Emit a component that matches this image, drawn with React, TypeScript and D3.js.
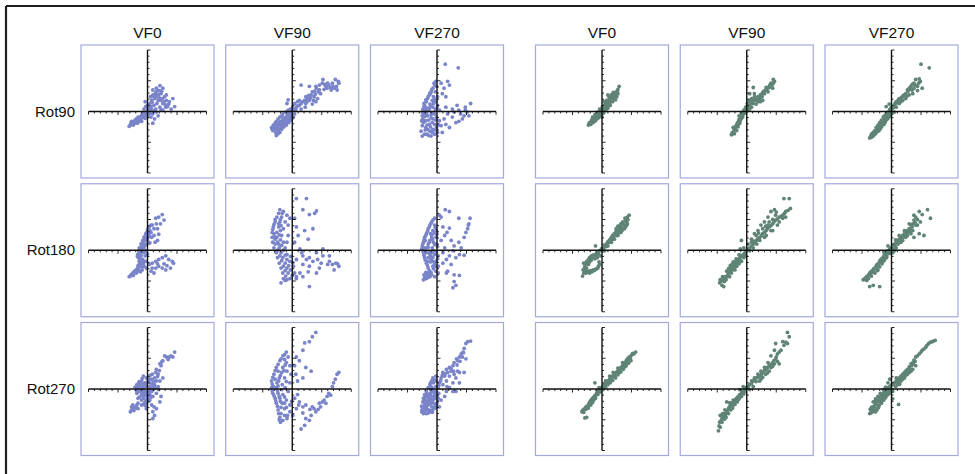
import React from 'react';
import * as d3 from 'd3';

type Pt = [number, number];

const vfLabels = ['VF0', 'VF90', 'VF270'];
const rotLabels = ['Rot90', 'Rot180', 'Rot270'];

// axis domain is -10..10 on both axes

// ---- left block (blue) ----
const blueRot90VF0: Pt[] = [
  [-2.9,-2.2],[-2.4,-1.8],[-1.8,-1.5],[-1.3,-1.1],[-0.7,-0.7],[-0.2,-0.3],[-2.7,-1.6],[-2.1,-1.4],[-1.6,-0.9],[-1.0,-0.6],
  [-0.4,-0.2],[0.1,0.2],[-2.4,-2.2],[-1.7,-1.9],[-1,-1.6],[-0.4,-1.1],[0.1,-0.7],[0.4,-0.3],[-0.6,0.4],[-0.3,0.8],
  [0.1,0.6],[0.5,0.3],[-0.4,1.6],[0.9,3.5],[1.5,3.8],[2.1,4.2],[2.6,3.8],[2.3,2.9],[2.9,2.4],[3.2,1.8],
  [3.7,1.6],[4.3,2.1],[4.6,0.8],[4.0,0.4],[3.4,0.8],[2.6,1.3],[1.8,1.8],[1.2,2.1],[0.9,2.7],[1.5,2.4],
  [2.1,0.7],[0.9,-0.4],[1.2,-1.2],[0.9,-1.9],[1.8,-0.7],[2.6,0.2],[0.7,1.8],[0.4,1.3],[1.1,1.0],[1.6,1.3],
  [2.2,1.8],[1.9,2.8],[1.4,3.1],[2.5,2.1],[3.2,2.7],[0.7,0.4],[1.4,0.4],[3.1,0.7],[1.5,-0.1],[-1.9,-1.2],
  [-1.2,-0.9],[-0.8,-0.4],[-2.2,-1.9],[0.3,0.9],
  [-2.6,-2.0],[-2.2,-1.6],[-2.0,-1.8],[-1.5,-1.3],[-1.4,-1.6],[-1.1,-1.2],[-0.9,-1.0],[-0.6,-0.9],[-0.5,-0.5],[-0.3,-0.6],
  [0.0,-0.4],[0.2,-0.1],[-0.1,0.0],[0.3,0.5],[0.6,0.8],[0.8,1.5],[1.0,2.5],[1.3,2.8],[1.7,3.4],[2.0,3.4],
  [2.4,3.3],[2.0,2.2],[2.8,1.6],[3.6,1.2],[3.0,1.1],[1.2,0.1],[0.6,-0.9],[2.3,0.3],[-2.8,-1.9],[-3.1,-2.4],
  [-1.9,-1.7],[-0.8,-0.2],[0.0,1.0],[0.5,2.4],
];
const blueRot90VF90: Pt[] = [
  [1.2,1.8],[2.3,2.4],[3.4,3.2],[4.0,4.1],[5.1,4.6],[5.7,4.1],[6.2,4.3],[6.8,4.6],[7.3,5.2],[7.9,4.6],
  [7.6,3.5],[7.1,3.8],[6.5,3.9],[4.6,3.5],[3.7,2.4],[2.9,1.8],[2.3,1.3],[1.8,1.6],[4.0,1.6],[3.4,1.2],
  [1.5,4.3],[2.9,4.1],[5.2,5.2],[4.1,3.8],[4.8,2.9],[3.2,2.7],[2.6,2.1],[2.1,1.8],[1.2,1.0],[0.7,0.7],
  [0.9,1.6],[-0.7,1.9],[-0.9,1.3],[0.4,1.3],[1.5,0.4],[2.2,0.7],[5.9,3.8],[6.6,3.5],[4.3,2.1],[3.6,1.8],
  [-3.5,-2.6],[-3.2,-2.2],[-2.9,-1.9],[-2.7,-1.6],[-2.4,-1.2],[-2.1,-0.9],[-1.8,-0.7],[-1.6,-0.4],[-1.1,-0.1],[-0.7,0.2],
  [-0.3,0.4],[0.1,0.7],[-3.3,-3.1],[-2.9,-2.9],[-2.6,-2.6],[-2.1,-2.3],[-1.7,-2.1],[-1.3,-1.8],[-0.9,-1.4],[-0.4,-0.9],
  [0,-0.7],[0.4,-0.4],[-2.8,-3.4],[-2.4,-3.2],[-1.8,-2.9],[-1.4,-2.5],[-1,-2.2],[-0.6,-1.8],[-0.2,-1.4],[0.2,-0.9],
  [-2.7,-3.9],[-2.1,-3.4],[-3.1,-2.5],[-2.2,-1.8],[-1.6,-1.4],[-0.9,-0.7],[-0.3,-0.3],[-1.8,-1.6],[-1.3,-1.1],[-2.6,-2.1],
  [-0.7,-0.4],[0.4,0.2],[-3.4,-2.9],[-2.5,-2.8],[-1.9,-2.4],[-1.2,-1.4],[-0.5,-1.1],
  [-3.0,-2.4],[-2.6,-2.2],[-2.3,-1.9],[-2.0,-1.6],[-1.5,-1.1],[-1.0,-0.9],[-0.6,-0.6],[-0.2,-0.2],[-2.3,-2.9],[-1.9,-2.7],
  [-1.5,-2.2],[-1.1,-1.9],[-0.8,-1.6],[-0.4,-1.3],[0.0,-1.1],[-3.1,-2.9],[-2.4,-3.6],[-1.6,-1.8],[-0.1,0.2],[0.6,0.3],
  [0.9,0.9],[1.5,1.3],[2.5,1.6],[2.8,2.6],[3.1,2.2],[3.9,2.8],[4.4,3.2],[5.4,3.6],[5.5,4.4],[6.0,4.6],
  [6.9,4.1],[7.5,4.1],[7.8,4.9],[4.6,4.3],[3.8,3.3],
];
const blueRot90VF270: Pt[] = [
  [-0.2,4.9],[-0.4,4.3],[-0.7,3.8],[-1.0,3.2],[-1.3,2.7],[-1.6,2.1],[-1.8,1.6],[-2.1,1.0],[-2.4,0.4],[-2.5,-0.1],
  [-2.5,-0.7],[-2.4,-1.2],[-2.3,-1.8],[-2.5,-2.3],[-2.7,-3.2],[-2.5,-4.0],[-0.1,4.1],[-0.3,3.2],[-0.6,2.4],[-0.8,1.8],
  [-1.2,1.2],[-1.4,0.6],[-1.6,0.1],[-1.6,-0.7],[-1.4,-1.4],[-1.3,-2.1],[-1.6,-2.9],[-1.7,-3.7],[-1.0,-4.0],[-0.4,-3.7],
  [-0.7,-2.9],[-0.4,-2.1],[-0.7,-1.2],[-0.4,-0.4],[-0.1,-0.9],[-0.1,-2.6],[0.1,-3.4],[-0.7,0.7],[-0.2,1.6],[0.1,2.4],
  [0.1,1.0],[-1.8,-0.4],[-2.1,-1.6],[-1.9,-2.6],[0.4,0.2],[0.4,-1.5],[0.7,-2.3],
  [1.5,0.7],[2.6,0.4],[3.7,0.2],[4.8,0.2],[5.7,1.3],[5.4,-0.7],[4.3,-1.2],[3.2,-1.8],[2.1,-2.6],[0.9,-3.4],
  [2.6,-0.9],[1.8,-0.4],[4.8,0.7],[4.0,-0.4],[3.4,1.0],[1.2,-1.2],[4.6,-0.7],[5.1,-0.1],[2.9,-0.1],[1.5,-2.1],
  [3.7,-1.6],[1.4,7.7],[3.6,7.1],[1.8,4.9],[2.1,4.3],[1.2,3.8],[0.7,4.6],[1.5,2.4],[0.9,2.9],
  [-1.1,2.9],[-1.9,0.6],[-2.0,-0.3],[-1.0,-1.0],[-1.2,-3.2],
  [-0.5,4.6],[-0.9,3.5],[-1.2,3.0],[-1.5,2.4],[-1.9,1.9],[-2.2,1.3],[-2.2,0.8],[-2.0,0.2],[-1.3,0.4],[-1.0,0.9],
  [-0.9,-0.2],[-2.1,-0.8],[-1.9,-1.5],[-1.7,-2.2],[-2.0,-3.0],[-2.1,-3.7],[-1.4,-3.9],[-0.8,-3.4],[-1.1,-2.5],[-0.8,-1.8],
  [-1.0,-0.5],[-0.3,0.3],[0.0,0.6],[-0.6,1.3],[-0.4,2.0],[-2.3,-0.3],[-2.6,-1.5],[-0.2,-1.4],[-0.3,-3.0],[0.3,-2.2],
];
const blueRot180VF0: Pt[] = [
  [-3.1,-4.3],[-2.8,-4.0],[-2.5,-3.7],[-2.2,-3.4],[-1.9,-3.2],[-1.7,-2.9],[-1.4,-2.3],[-1.4,-1.8],[-1.5,-1.2],[-1.7,-0.7],
  [-1.5,-0.1],[-1.4,0.4],[-1.1,1.0],[-0.8,1.6],[-0.6,2.1],[-0.3,2.7],[0,3.2],[0.3,3.8],[0.6,4.1],
  [-1.1,-2.1],[-1.1,-0.9],[-0.8,-0.4],[-0.6,0.4],[-0.3,1.0],[0,1.6],[0.3,2.4],[-0.8,-1.5],[-0.6,-2.6],[-0.9,-3.2],
  [-1.9,-3.7],[-2.4,-4.1],[-0.4,-0.9],[-0.3,-0.1],[-1.3,-0.4],[-0.9,0.3],[-0.7,1.0],[-0.4,1.8],[0.2,2.9],[-1.3,-1.5],
  [-0.7,-2.2],[-0.2,-1.8],[-0.2,-2.9],[-1.4,-3.4],
  [2.5,5.8],[1.9,5.4],[2.8,4.9],[1.4,5.2],[0.8,4.1],[1.7,3.5],[1.1,2.4],[1.7,1.6],[0.6,2.9],[2.2,4.3],
  [1.5,4.3],[1.1,3.5],[0.7,2.1],[1.3,1.3],[1.9,2.6],
  [0.8,-2.1],[1.4,-1.8],[1.9,-1.5],[2.5,-1.2],[3.1,-0.9],[3.6,-1.5],[4.2,-1.8],[4.4,-2.1],[3.9,-2.9],[3.1,-3.2],
  [2.5,-2.9],[1.9,-2.6],[1.4,-2.9],[1.1,-3.7],[0.6,-3.4],[0.3,-2.3],[1.7,-2.2],[2.8,-2.2],[3.3,-2.5],[0.8,-2.9],
  [-2.9,-4.2],[-2.6,-3.9],[-2.3,-3.6],[-2.0,-3.4],[-1.6,-3.1],[-1.3,-2.7],[-1.2,-2.0],[-1.2,-1.4],[-1.3,-0.9],[-1.4,-0.4],
  [-1.2,0.1],[-1.0,0.6],[-0.9,1.2],[-0.6,1.5],[-0.4,2.3],[-0.1,2.9],[0.1,3.5],[-0.9,-2.7],[-0.6,-1.8],[-0.5,-0.3],
  [-0.4,0.8],[-0.1,2.0],[0.4,3.2],[0.4,1.2],[-1.6,-2.5],[-1.7,-1.0],[-1.2,-3.5],[0.0,-0.6],
];
const blueRot180VF90: Pt[] = [
  [-2.1,6.6],[-2.3,6.0],[-2.6,5.4],[-2.9,4.6],[-3.2,3.8],[-3.4,2.9],[-3.4,2.1],[-3.3,1.3],[-3.1,0.4],[-2.7,-0.4],
  [-2.5,-1.2],[-2.2,-2.1],[-1.9,-2.9],[-1.6,-3.7],[-1.5,-4.6],[-1.9,-5.3],
  [-1.5,6.3],[-1.8,5.4],[-2.1,4.6],[-2.3,3.8],[-2.6,2.9],[-2.6,2.1],[-2.5,1.3],[-2.2,0.4],[-1.9,-0.4],[-1.6,-1.2],
  [-1.2,-2.1],[-0.9,-2.9],[-0.7,-3.7],[-0.4,-4.6],[-0.9,-4.8],
  [-0.9,5.7],[-1.2,4.6],[-1.5,3.5],[-1.8,2.4],[-1.5,1.3],[-1.2,0.4],[-0.9,-0.7],[-0.4,-1.8],[0.2,-2.6],[0.4,-3.7],
  [0.7,-4.6],[-3.1,2.7],[-2.9,1.8],[-2.3,1.0],[-0.7,2.4],[-0.7,4.1],[-0.4,5.2],[-0.9,1.3],
  [0.7,8.4],[2.4,8.4],[1.8,6.6],[2.9,5.8],[4.1,6.4],[3.8,6.0],[2.1,3.2],[2.7,1.8],[3.5,3.5],[0.4,1.3],
  [1.0,2.4],[1.3,0.2],[0.7,-1.5],[0.4,5.2],[0.7,3.8],
  [1.8,-0.9],[2.9,-1.2],[4.1,-0.4],[5.2,-0.9],[6.3,-0.9],[7.4,-2.1],[7.9,-2.6],[7.1,-3.2],[6.0,-2.3],[4.6,-2.9],
  [4.1,-3.7],[2.9,-2.6],[1.8,-2.3],[1.3,-3.7],[2.9,-5.9],[0.7,-4.3],[1.8,-4.3],[5.2,0.2],[6.3,-1.8],[3.5,-1.8],
  [2.4,-1.5],[4.9,-2.1],[6.8,-2.3],[2.7,-3.5],[4.3,-1.5],[1.6,-0.4],[7.7,-2.2],
  [-2.9,5.0],[-3.1,4.2],[-3.3,3.4],[-3.0,2.2],[-2.9,1.0],[-2.5,0.0],[-2.1,-0.9],[-1.8,-1.7],[-1.5,-2.6],[-1.2,-3.3],
  [-1.1,-4.2],[-1.2,-4.9],[-2.0,5.0],[-2.3,4.3],[-2.0,3.2],[-2.2,2.5],[-2.0,1.7],[-1.8,0.8],[-1.5,0.0],[-1.2,-0.8],
  [-0.9,-1.5],[-0.6,-2.5],[-0.3,-3.2],[0.0,-4.1],[-1.7,6.0],[-1.9,4.0],[-0.3,-1.0],[0.1,-2.0],
];
const blueRot180VF270: Pt[] = [
  [-0.9,4.6],[-0.7,4.9],[-0.4,5.2],[-1.2,4.1],[-1.5,3.5],[-1.8,2.7],[-2.1,2.1],[-2.3,1.3],[-2.5,0.7],[-2.6,0.2],
  [-2.3,-0.4],[-2.1,-1.2],[-1.8,-2.1],[-1.5,-2.9],[-1.2,-3.7],[-2.1,-4.3],[-2.3,-4.8],[-1.8,-4.6],[-1.2,-4.3],[-0.9,-4.0],
  [-1.5,-3.7],[-0.4,4.1],[-0.7,3.2],[-0.9,2.4],[-1.2,1.6],[-1.5,1.0],[-1.8,0.4],[-1.8,-0.4],[-1.5,-1.2],[-1.1,-1.9],
  [-0.7,-2.6],[-0.2,-3.4],[-0.1,3.2],[-0.2,2.1],[-0.6,1.3],[-0.8,0.4],[-0.9,-0.4],[-0.7,-1.2],[-0.2,-1.8],[-0.4,-0.7],
  [-0.1,1.0],[0.2,-0.9],[0.2,-2.6],[-0.4,-4.3],[-2.2,0.4],[-2.0,1.6],[-1.2,-0.7],[-1.1,2.7],[-0.8,1.8],[0.2,-3.7],
  [0.4,5.7],[1.4,6.6],[2.1,6.3],[0.7,5.4],[1.0,3.8],[2.1,3.6],
  [3.7,5.2],[5.6,5.2],[5.4,4.3],[5.2,3.5],[4.9,2.9],[4.6,2.1],[3.7,1.3],[4.1,0.4],[2.9,0.7],[2.7,-0.1],
  [3.8,-0.7],[4.6,-0.8],[3.2,-1.2],[2.1,-0.9],[1.6,-1.5],[1.0,-2.1],[2.4,-2.3],[1.8,-3.4],[1.6,-3.7],[2.9,-4.0],
  [3.8,-4.1],[2.9,-5.1],[3.2,-5.7],[2.7,-6.1],[1.3,2.4],[0.7,1.6],[2.4,1.6],[1.7,2.9],[5.3,4.1],[1.0,-0.4],[1.3,0.4],
  [-1.0,4.4],[-1.3,3.8],[-1.6,3.1],[-1.9,2.4],[-2.2,1.7],[-2.4,1.0],[-2.4,-0.1],[-2.2,-0.8],[-2.0,-1.6],[-1.6,-2.5],
  [-1.3,-3.3],[-1.7,-4.1],[-2.0,-4.6],[-1.5,-4.4],[-1.0,-3.6],[-0.6,-3.0],[-0.4,-2.2],[-1.0,-1.5],[-1.3,-0.4],[-1.5,0.5],
  [-1.3,1.3],[-0.9,2.0],[-0.5,2.8],[-0.3,3.7],[-0.4,0.9],[-0.6,-0.1],[-1.0,-1.0],[-1.6,-1.8],[-0.7,-1.8],[-0.2,-2.6],
  [0.1,-1.4],[-0.1,-0.3],[0.1,0.6],[0.0,2.6],[-1.9,-3.6],[-2.2,-4.0],
];
const blueRot270VF0: Pt[] = [
  [-1.8,0.7],[-1.6,0.2],[-1.3,-0.4],[-1.0,-0.9],[-0.7,-1.5],[-0.4,-2.1],[-0.2,-2.3],[0.1,-1.5],[0.4,-0.9],[0.7,-0.4],
  [0.9,0.2],[1.2,0.7],[1.5,1.3],[0.7,1.6],[0.1,1.3],[-0.4,1.0],[-1.0,1.3],[-1.3,0.4],[-0.7,-0.1],[-0.2,-0.7],
  [-0.7,0.4],[-0.2,0.4],[0.4,0.4],[-0.4,-0.9],[-1.0,-1.8],[-1.6,-1.5],[-1.8,-0.7],[-2.1,0.3],[0.1,-0.1],[0.4,-1.8],
  [-0.2,-3.2],[0.9,-1.2],[1.5,-0.7],[1.9,-0.1],[1.8,0.4],[1.2,1.8],[0.8,2.4],[-0.7,2.1],[-0.2,1.8],[-1.4,1.2],
  [1.5,3.2],[2.1,4.1],[2.6,4.6],[3.2,5.2],[3.7,5.2],[4.3,5.2],[4.6,6.0],[2.9,5.4],[2.3,3.8],[1.8,2.4],
  [2.6,1.8],[2.1,1.3],[1.4,2.7],
  [-2.9,-3.7],[-2.7,-3.4],[-2.4,-3.2],[-2.1,-2.9],[-1.8,-2.6],[-1.6,-2.3],[-1.0,-2.6],[-2.7,-2.9],[-1.6,-3.2],[0.9,-3.7],
  [1.2,-4.3],[0.9,-4.8],[1.5,-3.2],[2.1,-2.1],[2.3,-1.2],[0.7,-2.6],
  [-1.5,0.9],[-1.1,0.8],[-0.9,0.0],[-0.4,-0.4],[0.2,-0.4],[0.6,0.1],[0.8,0.8],[1.0,1.2],[0.4,1.0],[-0.2,0.9],
  [-0.6,0.9],[-1.1,-0.3],[-0.8,-0.6],[-0.6,-1.2],[-0.1,-1.1],[0.2,-2.0],[-0.6,-2.4],[-1.3,-1.3],[-1.5,-0.4],[-1.9,-0.2],
  [0.3,1.6],[1.0,-0.1],[1.3,0.2],[-0.2,-1.8],[0.6,-1.3],[-0.9,1.7],[0.4,2.2],[1.7,2.0],[2.0,3.0],[2.4,4.4],
  [3.5,4.8],[4.0,5.4],[-2.3,-3.5],[-1.9,-3.1],[-2.5,-2.6],[-0.4,-2.7],[1.1,-2.9],
];
const blueRot270VF90: Pt[] = [
  [-1.0,6.0],[-1.6,5.4],[-2.1,4.6],[-2.7,3.5],[-3.1,2.4],[-3.5,1.3],[-3.5,0.2],[-3.3,-0.7],[-2.9,-1.5],[-2.7,-2.3],
  [-2.4,-3.4],[-2.1,-4.6],[-2.0,-5.4],
  [-0.7,5.2],[-1.0,4.3],[-1.6,3.5],[-1.8,2.7],[-2.2,1.8],[-2.6,1.0],[-2.7,0.2],[-2.4,-0.7],[-2.1,-1.5],[-1.7,-2.3],
  [-1.3,-3.2],[-1.3,-4.3],[-1.6,-5.1],[-0.9,-4.8],[-0.4,-3.7],[-0.4,-2.6],[-1.0,-1.8],[-1.6,-0.9],[-1.8,-0.1],[-1.7,0.7],
  [-1.3,1.8],[-0.9,2.9],[-0.4,3.8],[-0.2,2.4],[-0.4,1.0],[-0.7,-0.4],[-2.9,1.6],[-2.4,2.9],[-3.2,0.4],
  [4.0,9.2],[3.4,8.5],[2.9,7.7],[2.1,7.5],[1.8,6.3],[0.7,5.2],[1.2,4.6],[2.3,3.5],[3.2,2.9],[1.8,1.8],
  [0.9,1.3],[0.4,3.8],[0.6,2.4],
  [1.2,-2.1],[2.3,-2.6],[3.4,-2.9],[4.6,-2.3],[5.4,-1.8],[6.2,-0.7],[6.8,0.4],[7.3,1.6],[7.6,2.4],[7.9,2.7],
  [4.8,-2.9],[4.0,-3.7],[3.2,-4.3],[2.3,-4.8],[1.5,-6.5],[2.1,-5.9],[2.9,-5.1],[5.9,-1.2],[7.0,1.0],[5.1,-2.1],
  [3.7,-3.2],[1.8,-2.9],[0.9,-0.9],[0.7,-3.2],[0.1,-4.3],[0.4,-1.5],
  [-1.3,5.6],[-1.9,4.9],[-2.4,4.0],[-2.9,3.0],[-3.3,1.9],[-3.4,0.8],[-3.4,-0.3],[-3.1,-1.1],[-2.8,-1.9],[-2.5,-2.8],
  [-2.3,-4.0],[-2.2,-5.0],[-1.9,-4.0],[-1.9,-3.0],[-2.0,-2.0],[-2.2,-1.2],[-2.5,-0.3],[-2.4,0.5],[-2.3,1.3],[-2.0,2.2],
  [-1.4,3.0],[-1.2,3.9],[-1.3,4.8],[-1.0,-3.0],[-1.3,-2.3],[-1.3,-1.3],[-1.2,0.2],[-1.0,1.2],[-0.8,-4.3],[-0.1,-2.0],
  [3.0,-3.3],[4.4,-3.3],[5.7,-2.3],[6.5,-1.0],[1.8,-3.9],[1.1,-2.6],
];
const blueRot270VF270: Pt[] = [
  [-2.6,-3.7],[-2.3,-3.4],[-2.1,-3.2],[-1.8,-2.9],[-1.5,-2.6],[-1.2,-2.3],[-0.9,-2.1],[-0.7,-1.8],[-0.4,-1.5],[-2.3,-4.0],
  [-1.8,-4.0],[-1.2,-3.7],[-0.7,-3.4],[-0.2,-3.1],[-2.4,-2.1],[-2.3,-1.5],[-2.1,-0.9],[-1.8,-0.4],[-1.5,0.2],[-1.2,0.7],
  [-0.9,1.3],[-0.7,1.8],[-0.2,2.1],[-1.9,-1.8],[-1.5,-1.2],[-1.1,-0.7],[-0.7,-0.1],[-0.2,0.4],[-0.4,-0.7],[-0.8,-1.2],
  [-1.1,-1.6],[-1.5,-2.1],[-2.1,-2.5],[-0.1,1.3],[0.2,0.2],[0.2,-1.5],[0,-2.3],[-2.1,-3.7],[-0.9,-2.9],[-0.6,1.0],
  [0.4,1.0],[0.3,-0.7],[0.4,-2.9],[-0.2,-0.9],[-2.6,-2.8],[-1.6,-3.3],[-1.0,-0.2],[-1.3,-1.0],
  [1.0,2.7],[1.6,3.2],[2.1,3.5],[2.7,3.8],[2.9,4.3],[3.5,4.6],[3.8,5.2],[4.1,5.7],[4.6,6.6],[4.9,7.4],
  [5.2,7.7],[5.7,7.8],[4.3,5.2],[4.9,4.9],[3.5,2.9],[3.8,2.7],[4.6,2.7],[3.2,1.8],[2.7,1.0],[2.1,0.2],
  [1.6,-0.4],[1.3,-1.2],[0.7,-1.8],[1.6,1.3],[2.1,2.1],[2.9,2.4],[3.8,1.0],[3.2,-0.4],[2.7,-0.4],[0.7,1.8],
  [1.3,2.1],[1.8,2.7],[2.4,2.9],[1.0,0.7],[1.7,0.4],[4.4,6.0],
  [-2.4,-3.0],[-2.0,-2.7],[-1.7,-2.3],[-1.4,-2.0],[-1.1,-2.4],[-0.5,-2.4],[-0.4,-1.1],[-0.6,-0.4],[-0.9,0.3],[-1.1,1.0],
  [-0.4,1.5],[-1.3,0.2],[-1.7,-0.7],[-2.0,-1.3],[-2.2,-2.0],[-1.9,-3.3],[-1.4,-3.4],[-1.0,-3.5],[-0.5,-3.0],[-0.1,-2.6],
  [0.1,-1.9],[0.0,-1.2],[-0.1,-0.4],[0.3,0.6],[-1.4,-1.5],[-1.8,-1.1],[-0.8,-2.1],[-2.5,-3.3],[-2.0,-3.9],[-1.5,-3.9],
  [-0.8,-3.8],[0.6,1.3],[0.9,2.2],[1.4,2.5],[2.4,3.3],[2.8,2.9],[3.4,3.9],[3.3,4.9],[3.9,4.5],[4.5,5.9],
];

// ---- right block (green) ----
const greenRot90VF0: Pt[] = [
  [-2.3,-2.2],[-2.1,-1.8],[-1.8,-1.5],[-1.5,-1.2],[-1.2,-0.9],[-0.9,-0.7],[-0.7,-0.4],[-0.4,-0.1],[-0.1,0.2],[0.2,0.4],
  [0.4,0.8],[0.7,1.3],[1.0,1.6],[1.3,1.8],[1.6,2.1],[1.8,2.4],[2.1,2.8],[2.4,3.2],[2.7,3.6],[2.9,4.1],
  [-1.9,-2.1],[-1.5,-1.8],[-1.1,-1.5],[-0.7,-1.1],[-0.3,-0.7],[0.2,-0.3],[0.6,0.2],[1.0,0.6],[1.4,1.0],[1.8,1.6],
  [2.3,1.9],[2.5,2.4],[-1.6,-0.9],[-1.2,-0.5],[-0.8,-0.1],[-0.4,0.4],[0.1,0.8],[0.4,1.6],[0.8,1.8],[1.2,2.3],
  [1.6,2.7],[1.9,3.1],[-0.5,-0.9],[-0.1,-0.5],[0.3,-0.1],[-0.9,-1.2],[-1.4,-1.6],[0.6,0.6],[0.8,1.0],[1.3,1.3],
  [2.1,2.4],[2.7,2.9],[1.0,2.7],[-2.0,-2.0],[-0.3,-0.4],[0.0,-0.9],
  [-2.2,-2.0],[-1.7,-1.7],[-1.3,-1.3],[-1.0,-1.1],[-0.6,-0.8],[-0.5,-0.2],[-0.2,0.1],[0.0,0.5],[0.3,0.6],[0.5,1.1],
  [0.9,1.2],[1.2,1.6],[1.5,2.4],[1.7,1.9],[2.0,2.2],[2.2,2.6],[2.3,3.0],[2.6,3.3],[0.3,0.2],[-0.7,-0.6],
  [-1.4,-1.0],[-1.7,-1.3],[0.9,0.5],[1.1,0.9],
];
const greenRot90VF90: Pt[] = [
  [-2.6,-3.8],[-2.3,-3.3],[-2.0,-2.7],[-1.7,-2.2],[-1.4,-1.6],[-1.2,-1.2],[-0.9,-0.8],[-0.6,-0.5],[-0.3,-0.1],[-0.1,0.3],
  [0.2,0.6],[0.5,1.0],[0.8,1.4],[1.1,1.8],[-2.3,-2.6],[-1.8,-2.3],[-1.4,-2.1],[-1.1,-1.5],[-0.7,-0.9],[-1.3,-0.7],
  [-0.9,-0.3],[-0.5,0.2],[-0.2,0.7],
  [0.4,1.8],[0.8,2.1],[1.3,2.4],[1.7,1.8],[2.2,2.1],[2.6,2.4],[3.0,2.9],[3.4,3.5],[3.8,3.9],[4.3,4.3],
  [4.7,4.9],[4.5,5.2],[4.1,4.6],[3.6,3.9],[3.2,3.5],[2.7,3.1],[2.3,2.7],[1.9,2.4],[1.5,1.9],[1.1,1.3],
  [1.6,1.2],[0.5,2.9],[1.1,3.9],[2.3,1.6],[3.6,3.2],[4.4,3.8],[1.3,2.9],[2.7,1.8],
  [-2.3,-3.6],[-1.7,-3.1],[0.2,0.2],[0.5,0.4],[0.1,1.3],[0.8,0.7],[1.9,1.6],
  [-2.5,-3.5],[-2.1,-2.9],[-1.9,-2.5],[-1.6,-1.9],[-1.2,-1.9],[-1.3,-1.3],[-0.9,-1.1],[-0.8,-0.6],[-0.4,-0.3],[-0.1,-0.1],
  [0.3,0.4],[0.3,1.0],[0.6,1.6],[1.0,1.7],[1.4,2.2],[2.0,2.0],[2.5,2.8],[2.9,3.3],[3.3,3.9],[3.9,4.3],
  [4.5,4.6],[2.1,2.4],[-2.1,-3.6],[-1.5,-2.5],
];
const greenRot90VF270: Pt[] = [
  [-3.7,-4.3],[-3.4,-3.7],[-3.1,-3.4],[-2.8,-3.1],[-2.6,-2.6],[-2.3,-2.2],[-2.0,-1.8],[-1.7,-1.4],[-1.4,-0.9],[-1.2,-0.7],
  [-0.9,-0.4],[-0.6,-0.1],[-0.3,0.3],[-0.1,0.6],[0.2,0.8],[-3.4,-4.2],[-3.0,-3.8],[-2.6,-3.4],[-2.1,-3.1],[-1.7,-2.5],
  [-1.3,-2.1],[-1.0,-1.5],[-0.6,-1.1],[-0.2,-0.7],[0.1,-0.3],[-3.1,-4.0],[-2.7,-3.6],[-2.3,-3.2],[-1.9,-2.8],[-1.6,-2.2],
  [-1.1,-1.8],[-0.8,-1.3],[-0.4,-0.8],[-0.9,0.8],[-0.4,1.2],
  [0.5,1.0],[0.8,1.6],[1.1,1.8],[1.3,2.1],[1.9,2.4],[2.2,2.7],[2.4,2.9],[2.7,3.5],[3.0,3.8],[3.3,4.1],
  [3.8,4.6],[4.1,5.2],[4.7,5.3],[4.6,4.6],[5.2,3.8],[4.4,3.4],[3.6,2.9],[3.0,2.7],[2.4,2.1],[1.6,1.6],
  [0.8,0.7],[1.3,1.3],[0.5,-0.1],[1.9,1.8],[3.8,3.8],[4.4,4.1],[4.9,4.9],[5.0,7.7],[6.4,7.1],[3.5,3.5],[2.6,2.5],
  [-3.5,-4.0],[-3.2,-3.6],[-2.9,-3.3],[-2.4,-2.9],[-2.2,-2.5],[-1.9,-2.3],[-1.5,-1.8],[-1.3,-1.5],[-1.0,-1.1],[-0.7,-0.9],
  [-0.5,-0.5],[-0.2,-0.2],[0.0,0.3],[0.3,0.6],[0.6,1.3],[1.0,1.4],[1.5,1.9],[1.7,2.3],[2.0,2.6],[2.5,2.7],
  [2.8,3.3],[3.2,3.6],[3.5,4.4],[4.0,4.3],[-2.8,-3.6],[-1.8,-1.7],[-0.9,-0.9],[0.0,-0.1],
];
const greenRot180VF0: Pt[] = [
  [-3.3,-4.2],[-3.1,-3.7],[-3.2,-3.2],[-2.9,-2.6],[-3.1,-2.1],[-2.6,-1.8],[-2.3,-1.5],[-2.1,-1.2],[-1.8,-0.9],[-1.5,-0.8],
  [-1.2,-0.7],[-0.9,-0.5],[-0.7,-0.3],[-0.4,-0.1],[-2.7,-3.7],[-2.3,-3.4],[-1.9,-3.3],[-1.5,-3.2],[-1.1,-3.1],[-0.7,-2.9],
  [-0.4,-2.3],[-0.5,-1.9],[-2.6,-2.9],[-2.3,-2.3],[-2.1,-1.9],[-1.8,-1.6],[-1.2,-1.4],[-0.8,-1.2],[-0.3,-0.9],[-1.1,0.7],
  [-2.9,-3.4],[-2.1,-3.7],
  [0.2,0.2],[0.4,0.6],[0.7,1.0],[1.0,1.4],[1.3,1.7],[1.6,2.1],[1.8,2.4],[2.1,2.7],[2.4,3.1],[2.7,3.5],
  [2.9,3.9],[3.2,4.3],[3.5,4.6],[3.9,5.2],[4.3,5.4],[4.6,5.7],[4.2,4.6],[3.8,4.1],[3.5,3.5],[2.9,2.9],
  [2.4,2.4],[1.8,1.8],[1.3,1.3],[0.7,0.6],[0.4,-0.1],[1.0,0.7],[1.6,1.3],[2.1,1.8],[2.7,2.4],[3.2,2.9],
  [3.8,3.5],[4.2,4.1],[4.3,4.3],[2.4,3.5],[2.7,3.9],[-0.1,0.2],
  [-3.0,-3.0],[-2.8,-2.2],[-2.5,-2.1],[-2.0,-1.5],[-1.6,-1.2],[-1.0,-0.9],[-0.6,-0.6],[-2.5,-3.5],[-1.7,-3.5],[-1.3,-3.3],
  [-0.9,-3.0],[-0.6,-2.6],[-2.8,-3.1],[0.1,-0.1],[0.3,0.4],[0.6,0.8],[0.9,1.1],[1.2,1.5],[1.5,1.9],[1.9,2.2],
  [2.3,2.7],[2.6,3.1],[3.0,3.4],[3.3,3.8],[3.6,4.3],[4.0,4.8],[4.4,5.0],[1.5,1.6],[2.6,2.6],[3.4,3.2],[4.0,3.8],
];
const greenRot180VF90: Pt[] = [
  [-4.6,-5.3],[-4.2,-5.7],[-3.9,-5.9],[-4.5,-4.8],[-4.1,-4.3],[-3.7,-4.6],[-3.4,-4.3],[-3.1,-3.7],[-2.8,-3.2],[-2.6,-2.9],
  [-2.3,-2.6],[-2.0,-2.2],[-1.7,-1.8],[-1.4,-1.5],[-1.2,-1.2],[-0.9,-0.9],[-0.6,-0.7],[-0.3,-0.4],[-0.1,-0.1],
  [-3.8,-5.1],[-3.5,-4.8],[-2.9,-4.3],[-2.6,-3.7],[-2.0,-3.2],[-1.7,-2.6],[-1.3,-2.2],[-0.9,-1.8],[-0.5,-1.2],[-0.2,-0.9],
  [-3.4,-3.4],[-2.8,-2.5],[-2.3,-1.9],[-1.8,-1.4],[-1.3,-0.7],[-1.1,0.2],[-0.9,1.6],[-0.5,0.4],[-4.2,-4.9],
  [0.5,0.4],[1.1,1.0],[1.6,1.6],[2.2,2.1],[2.7,2.7],[3.3,3.2],[3.8,3.8],[4.4,4.3],[4.9,4.9],[5.5,5.4],
  [6.1,5.7],[6.6,6.3],[7.4,6.8],[6.3,8.4],[7.2,8.4],[4.7,6.6],[4.1,6.3],[3.6,5.4],[3.0,4.6],[2.4,4.1],
  [1.9,3.2],[1.3,2.7],[0.8,1.8],[2.2,1.6],[3.3,2.4],[4.4,3.2],[5.5,4.6],[6.6,5.4],[0.2,1.0],[0.8,1.3],
  [1.6,2.4],[2.7,3.5],[3.8,4.6],[4.9,5.7],[6.1,5.2],[1.1,0.4],[1.7,1.0],[3.0,2.1],[4.1,3.2],[5.2,4.1],
  [3.6,4.1],[0.5,-0.1],
  [-4.4,-5.1],[-4.0,-4.7],[-3.6,-4.3],[-3.2,-4.0],[-2.9,-3.5],[-2.4,-3.2],[-2.1,-2.8],[-1.9,-2.4],[-1.5,-2.0],[-1.1,-1.6],
  [-0.7,-1.0],[-0.4,-0.6],[-3.1,-3.0],[-2.5,-2.3],[-2.1,-1.9],[0.2,0.2],[0.8,0.7],[1.4,1.3],[1.9,1.9],[2.5,2.4],
  [3.0,2.9],[3.5,3.5],[4.1,4.0],[4.6,4.6],[5.2,5.1],[5.8,5.5],[6.4,6.0],[7.0,6.5],[1.1,1.5],[2.0,2.8],
  [3.2,3.9],[4.4,5.0],[5.0,6.2],
];
const greenRot180VF270: Pt[] = [
  [-4.8,-4.8],[-4.5,-4.6],[-4.2,-4.3],[-3.9,-4.0],[-3.7,-3.7],[-3.4,-3.4],[-3.1,-3.2],[-2.8,-2.9],[-2.6,-2.6],[-2.3,-2.2],
  [-2.0,-1.8],[-1.7,-1.4],[-1.4,-1.1],[-1.2,-0.7],[-0.9,-0.4],[-0.6,-0.1],[-0.3,0.2],[-0.1,0.4],
  [-3.9,-4.6],[-3.4,-4.2],[-2.8,-3.7],[-2.4,-3.3],[-2.0,-2.7],[-1.6,-2.2],[-1.2,-1.6],[-0.8,-1.1],[-0.3,-0.5],[-2.3,-3.2],
  [-1.4,-1.8],[-0.9,-1.2],[-1.3,-0.3],[-0.6,0.7],[-3.7,-5.9],[-3.1,-5.7],[-2.0,-5.9],[-4.2,-4.9],
  [0.2,0.7],[0.5,1.0],[0.8,1.3],[1.1,1.6],[1.3,1.8],[1.6,2.1],[1.9,2.4],[2.2,2.7],[2.4,2.9],[2.7,3.2],
  [3.0,3.5],[3.3,4.1],[3.6,4.3],[3.8,4.9],[4.1,5.4],[4.7,6.3],[5.2,5.8],[6.1,6.6],[6.6,5.2],[5.5,2.4],
  [4.7,2.7],[3.8,2.1],[4.4,4.1],[4.9,4.6],[3.3,2.7],[2.4,2.1],[1.6,1.3],[0.8,0.4],[0.5,-0.1],[1.9,1.6],
  [2.7,2.4],[3.6,3.2],[4.1,4.1],[1.3,2.4],[2.2,3.2],[3.0,4.3],[3.8,5.7],[1.1,1.0],[0.2,-0.4],[0.7,1.7],
  [-4.6,-4.7],[-4.3,-4.4],[-4.0,-4.2],[-3.6,-3.8],[-3.2,-3.6],[-3.0,-3.0],[-2.6,-3.0],[-2.5,-2.4],[-2.2,-2.5],[-1.8,-2.0],
  [-1.9,-1.6],[-1.5,-1.5],[-1.1,-1.3],[-1.0,-0.8],[-0.7,-0.6],[-0.4,-0.3],[0.0,0.1],[0.3,0.4],[0.6,0.7],[1.0,1.3],
  [1.5,1.7],[1.8,2.0],[2.1,2.3],[2.6,2.8],[2.9,3.0],[3.2,3.4],[3.5,3.8],[4.0,4.5],[4.4,5.0],[1.2,1.4],[2.4,2.5],[3.1,3.1],
];
const greenRot270VF0: Pt[] = [
  [-3.4,-3.7],[-3.2,-3.4],[-2.9,-3.2],[-2.6,-2.9],[-2.3,-2.6],[-2.1,-2.2],[-1.8,-1.8],[-1.5,-1.4],[-1.2,-1.1],[-0.9,-0.7],
  [-0.7,-0.4],[-0.4,-0.1],[-0.1,0.2],[0.2,0.4],[0.4,0.7],[0.7,1.0],[1.0,1.3],[1.3,1.6],[1.6,1.8],[1.8,2.1],
  [2.1,2.4],[2.4,2.7],[2.7,2.9],[2.9,3.2],[3.2,3.5],[3.5,3.8],[3.8,4.1],[4.1,4.6],[4.3,4.9],[4.6,5.2],
  [5.2,5.8],[5.7,6.0],[5.4,5.7],
  [-3.1,-3.8],[-2.7,-3.3],[-2.3,-3.1],[-1.9,-2.6],[-1.6,-2.2],[-1.4,-1.8],[-1.1,-1.5],[-0.7,-0.9],[-0.3,-0.5],[0.2,-0.1],
  [0.6,0.3],[1.0,0.7],[1.4,1.0],[1.8,1.4],[2.3,1.8],[2.7,2.3],[3.2,2.8],[3.6,3.2],[4.1,3.8],[4.5,4.2],
  [4.9,4.6],[1.9,2.7],[2.7,3.4],[3.5,4.3],[1.3,2.1],[0.6,1.3],[-0.5,0.2],[-2.9,-4.7],[-2.6,-4.6],[-1.2,1.0],
  [-1.9,-1.9],[-0.8,-0.3],
  [-3.3,-3.5],[-3.0,-3.3],[-2.8,-3.0],[-2.5,-2.8],[-2.2,-2.4],[-2.0,-2.0],[-1.7,-1.6],[-1.3,-1.2],[-1.0,-0.9],[-0.8,-0.6],
  [-0.5,-0.3],[-0.2,0.0],[0.1,0.3],[0.3,0.6],[0.6,0.8],[0.9,1.1],[1.2,1.4],[1.5,1.7],[1.7,2.0],[2.0,2.2],
  [2.3,2.5],[2.6,2.8],[2.8,3.1],[3.1,3.3],[3.4,3.6],[3.7,3.9],[4.0,4.3],[4.4,4.7],[4.8,5.0],[5.0,5.5],
  [2.2,2.0],[3.0,2.7],[3.9,3.6],
];
const greenRot270VF90: Pt[] = [
  [-4.8,-6.8],[-4.5,-6.2],[-4.6,-5.4],[-4.2,-4.8],[-3.9,-4.6],[-4.5,-4.3],[-3.7,-4.0],[-3.4,-3.7],[-3.1,-3.2],[-2.8,-2.6],
  [-3.4,-2.1],[-2.6,-2.3],[-2.3,-1.8],[-1.7,-1.5],[-1.4,-1.2],[-1.2,-0.9],[-0.9,-0.7],[-0.6,-0.4],[-0.3,-0.1],[-0.1,0.1],
  [-4.2,-5.4],[-3.8,-4.9],[-3.5,-4.6],[-3.1,-4.0],[-2.7,-3.4],[-2.4,-3.1],[-2.0,-2.5],[-1.6,-2.1],[-1.3,-1.6],[-0.9,-1.2],
  [-0.5,-0.8],[-2.9,-2.2],[-2.3,-2.6],[-1.8,-1.9],[-1.2,-1.4],[-3.7,-3.4],[-4.1,-4.0],[-0.6,0.4],[-1.2,-0.1],
  [0.5,0.7],[1.1,1.3],[1.6,1.8],[2.2,2.1],[2.7,2.7],[3.3,3.2],[3.8,3.8],[4.4,4.3],[4.9,4.9],[5.2,5.7],
  [5.8,6.3],[6.3,7.1],[6.9,7.4],[7.2,8.5],[6.9,9.2],[6.1,7.7],[4.9,7.4],[4.7,6.3],[4.1,5.4],[5.5,4.1],
  [3.6,4.3],[3.0,3.5],[2.4,2.9],[1.9,2.4],[1.3,1.8],[0.8,1.3],[2.2,1.3],[1.1,0.4],[0.2,0.4],[1.6,1.2],
  [2.7,1.9],[3.8,2.9],[4.7,4.1],[0.5,-0.1],[3.2,2.4],[4.1,3.5],
  [-4.7,-6.0],[-4.4,-5.2],[-4.0,-4.4],[-3.6,-4.2],[-3.3,-3.5],[-3.0,-3.0],[-2.7,-2.9],[-2.5,-2.4],[-2.1,-2.1],[-1.9,-1.7],
  [-1.5,-1.8],[-1.5,-1.3],[-1.1,-1.1],[-0.8,-0.5],[-0.4,-0.4],[-0.2,0.2],[0.2,0.2],[0.8,0.9],[1.3,1.5],[1.9,1.9],
  [2.5,2.4],[3.0,3.0],[3.5,3.5],[4.1,4.0],[4.6,4.6],[5.0,5.2],[5.5,6.0],[6.6,7.6],[3.5,2.6],[2.4,1.6],
  [4.4,3.7],[5.2,4.5],
];
const greenRot270VF270: Pt[] = [
  [-3.7,-4.0],[-3.4,-3.7],[-3.6,-3.3],[-3.2,-2.9],[-3.0,-3.4],[-2.7,-3.7],[-2.8,-2.6],[-2.6,-2.2],[-2.3,-1.8],[-2.0,-1.4],
  [-1.7,-0.9],[-1.4,-0.7],[-1.2,-0.4],[-0.9,-0.1],[-0.6,0.2],[-0.3,0.4],[-2.4,-3.2],[-2.1,-2.7],[-1.7,-2.3],[-1.3,-1.8],
  [-1.0,-1.4],[-0.6,-0.9],[-0.2,-0.5],[-3.1,-2.1],[-2.7,-1.6],[-2.3,-1.2],[-1.9,-0.7],[-1.4,-0.1],[-1.0,0.3],[-0.6,1.0],
  [-0.3,1.6],[0.2,-1.6],[1.2,-2.5],[-3.2,-3.7],[-2.0,-2.1],[-1.2,-1.1],[0.1,-0.1],
  [0.2,0.7],[0.5,1.0],[0.8,1.3],[1.1,1.6],[1.3,1.8],[1.6,2.1],[1.9,2.4],[2.2,2.7],[2.4,2.9],[2.7,3.2],
  [3.0,3.6],[3.3,4.1],[3.6,4.3],[3.8,4.7],[4.1,5.2],[4.7,5.7],[5.2,6.3],[5.8,6.8],[6.3,7.4],[6.9,7.7],
  [7.4,7.9],[0.8,1.8],[1.3,1.3],[1.9,1.6],[2.4,2.2],[3.0,2.7],[3.6,3.2],[4.1,3.8],[1.6,1.3],[2.2,1.8],
  [2.7,2.4],[3.3,2.9],[0.7,0.4],[1.1,0.7],[1.4,0.8],[0.2,-0.4],
  [-3.5,-3.9],[-3.3,-3.5],[-3.1,-3.1],[-2.9,-2.9],[-2.9,-3.6],[-2.5,-3.4],[-2.2,-3.0],[-2.5,-2.5],[-2.2,-2.0],[-1.9,-1.7],
  [-1.8,-1.2],[-1.6,-1.9],[-1.5,-1.4],[-1.2,-1.5],[-1.1,-0.9],[-0.8,-0.6],[-0.5,-0.2],[-0.8,-1.0],[-0.4,-0.7],[-0.1,-0.2],
  [-0.1,0.6],[0.4,0.9],[0.9,1.0],[1.2,1.4],[1.5,1.6],[1.7,1.9],[2.0,2.1],[2.3,2.5],[2.6,2.7],[2.9,3.0],
  [3.1,3.3],[3.4,3.8],[3.7,4.1],[4.0,4.5],[4.4,5.4],[5.0,6.0],[5.5,6.5],[6.0,7.1],[6.6,7.6],[7.1,7.8],
  [-2.8,-2.0],[-3.4,-3.0],
];

const blueSets = [
  [blueRot90VF0, blueRot90VF90, blueRot90VF270],
  [blueRot180VF0, blueRot180VF90, blueRot180VF270],
  [blueRot270VF0, blueRot270VF90, blueRot270VF270],
];
const greenSets = [
  [greenRot90VF0, greenRot90VF90, greenRot90VF270],
  [greenRot180VF0, greenRot180VF90, greenRot180VF270],
  [greenRot270VF0, greenRot270VF90, greenRot270VF270],
];

const BLUE = '#7a84c9';
const GREEN = '#5f8475';
const FRAME = '#a3a9db';
const HALF = 66.5;
const FONT = '"Liberation Sans", Arial, sans-serif';

const ticks = d3.range(-10, 11);

function Panel({ cx, cy, pts, color }: { cx: number; cy: number; pts: Pt[]; color: string }) {
  const x = d3.scaleLinear().domain([-10, 10]).range([cx - 59, cx + 59]);
  const y = d3.scaleLinear().domain([-10, 10]).range([cy + 61.5, cy - 61.5]);
  const tickLen = (t: number) => (Math.abs(t) === 5 ? 3.5 : Math.abs(t) === 10 ? 3 : 2);
  return (
    <g>
      <rect x={cx - HALF} y={cy - HALF} width={HALF * 2} height={HALF * 2} fill="#fff" stroke={FRAME} strokeWidth={1.2} />
      {pts.map((p, i) => (
        <circle key={i} cx={x(p[0])} cy={y(p[1])} r={1.9} fill={color} />
      ))}
      <line x1={x(-10)} x2={x(10)} y1={y(0)} y2={y(0)} stroke="#111" strokeWidth={1.4} />
      <line x1={x(0)} x2={x(0)} y1={y(-10)} y2={y(10)} stroke="#111" strokeWidth={1.4} />
      {ticks.filter(t => t !== 0).map(t => (
        <g key={t}>
          <line x1={x(t)} x2={x(t)} y1={y(0)} y2={y(0) + tickLen(t)} stroke="#111" strokeWidth={0.9} />
          <line x1={x(0)} x2={x(0) + tickLen(t)} y1={y(t)} y2={y(t)} stroke="#111" strokeWidth={0.9} />
        </g>
      ))}
    </g>
  );
}

export default function App() {
  const rows = d3.scalePoint<string>().domain(rotLabels).range([111.5, 389]);
  const leftCols = d3.scalePoint<string>().domain(vfLabels).range([147.5, 437]);
  const rightCols = d3.scalePoint<string>().domain(vfLabels).range([602, 891.5]);

  return (
    <svg width={975} height={474} style={{ position: 'absolute', left: 0, top: 0, background: '#fff' }}>
      <rect x={0} y={0} width={975} height={474} fill="#fff" />
      <line x1={6} x2={975} y1={6} y2={6} stroke="#231f20" strokeWidth={2.2} />
      <line x1={6} x2={6} y1={6} y2={474} stroke="#231f20" strokeWidth={2.2} />

      {vfLabels.map(v => (
        <g key={v}>
          <text x={leftCols(v)} y={38} textAnchor="middle" fontFamily={FONT} fontSize={15.5} fill="#111">{v}</text>
          <text x={rightCols(v)} y={38} textAnchor="middle" fontFamily={FONT} fontSize={15.5} fill="#111">{v}</text>
        </g>
      ))}
      {rotLabels.map(r => (
        <text key={r} x={75} y={(rows(r) as number) + 5} textAnchor="end" fontFamily={FONT} fontSize={15} fill="#111">{r}</text>
      ))}

      {rotLabels.map((r, ri) =>
        vfLabels.map((v, ci) => (
          <g key={r + v}>
            <Panel cx={leftCols(v) as number} cy={rows(r) as number} pts={blueSets[ri][ci]} color={BLUE} />
            <Panel cx={rightCols(v) as number} cy={rows(r) as number} pts={greenSets[ri][ci]} color={GREEN} />
          </g>
        ))
      )}
    </svg>
  );
}
